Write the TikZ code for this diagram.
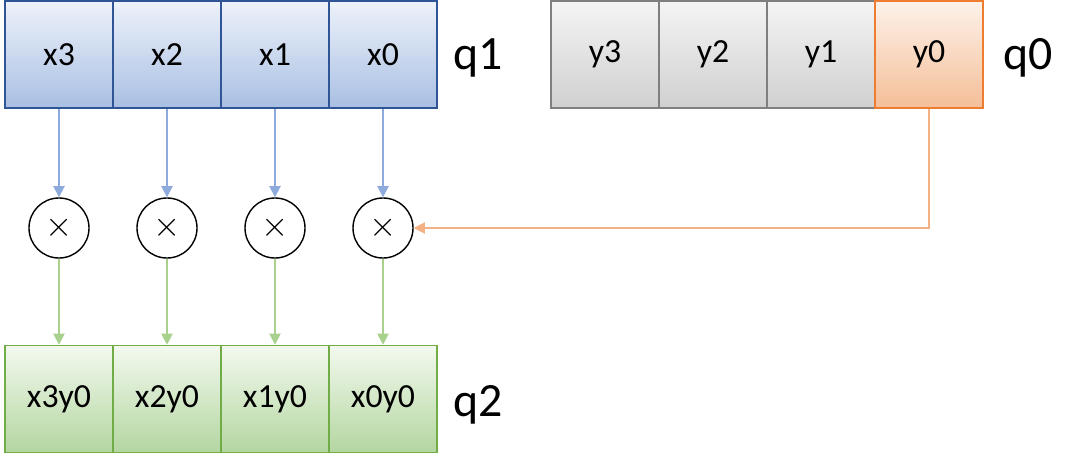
\documentclass[tikz,border=0pt]{standalone}
\usepackage{fontspec}
\setmainfont{Carlito}
\usetikzlibrary{arrows.meta}
\definecolor{bluebd}{HTML}{2F5597}
\definecolor{bluetop}{HTML}{EEF2FA}
\definecolor{bluebot}{HTML}{A8BFE3}
\definecolor{bluearr}{HTML}{8FAADC}
\definecolor{graybd}{HTML}{7F7F7F}
\definecolor{graytop}{HTML}{F4F4F4}
\definecolor{graybot}{HTML}{D0D0D0}
\definecolor{orangebd}{HTML}{ED7D31}
\definecolor{orangetop}{HTML}{FDF2EA}
\definecolor{orangebot}{HTML}{F5BE98}
\definecolor{orangearr}{HTML}{F4B183}
\definecolor{greenbd}{HTML}{70AD47}
\definecolor{greentop}{HTML}{F3F9EF}
\definecolor{greenbot}{HTML}{B3D6A0}
\definecolor{greenarr}{HTML}{A9D18E}
\tikzset{
  cell/.style={draw,line width=0.9pt,minimum width=2.7cm,minimum height=2.68cm,inner sep=0pt,
    font=\fontsize{24}{27}\selectfont},
  bluecell/.style={cell,draw=bluebd,top color=bluetop,bottom color=bluebot},
  graycell/.style={cell,draw=graybd,top color=graytop,bottom color=graybot},
  orangecell/.style={cell,draw=orangebd,top color=orangetop,bottom color=orangebot},
  greencell/.style={cell,draw=greenbd,top color=greentop,bottom color=greenbot},
  mult/.style={circle,draw,line width=1pt,minimum size=1.5cm,inner sep=0pt,font=\fontsize{26}{28}\selectfont},
  reglabel/.style={font=\fontsize{34}{38}\selectfont,inner sep=0pt},
  tip/.style={-{Triangle[width=8pt,length=8pt]},line width=1.3pt}
}
\begin{document}
\begin{tikzpicture}[x=0.025cm,y=-0.025cm]
\useasboundingbox (0,0) rectangle (1084,460);
% register q1
\foreach \i in {0,...,3}{
  \node[bluecell] (x\i) at (383-108*\i,54.5) {x\i};
}
\node[reglabel] (q1) at (478,58) {q1};
% register q0
\foreach \i in {1,2,3}{
  \node[graycell] (y\i) at (929-108*\i,54.5) {y\i};
}
\node[orangecell] (y0) at (929,54.5) {y0};
\node[reglabel] (q0) at (1028,58) {q0};
% multipliers
\foreach \i in {0,...,3}{
  \node[mult] (m\i) at (383-108*\i,228) {$\times$};
  \draw[tip,draw=bluearr] (x\i) -- (m\i);
}
\draw[tip,draw=orangearr] (y0.south) |- (m0.east);
% register q2
\foreach \i in {0,...,3}{
  \node[greencell] (p\i) at (383-108*\i,399) {x\i y0};
  \draw[tip,draw=greenarr] (m\i) -- (p\i);
}
\node[reglabel] (q2) at (478,405) {q2};
\end{tikzpicture}
\end{document}
